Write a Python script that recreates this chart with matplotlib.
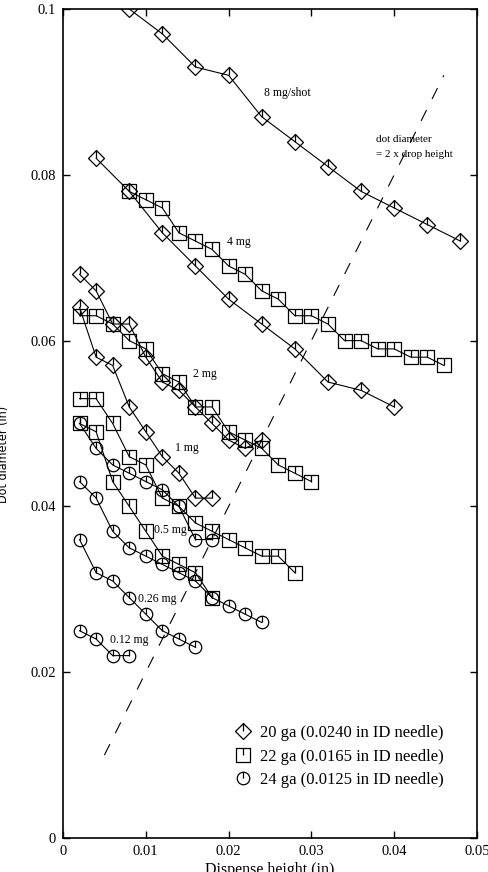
import matplotlib
matplotlib.use("Agg")
import matplotlib.pyplot as plt
from matplotlib.path import Path
from matplotlib.lines import Line2D

plt.rcParams["font.family"] = "Liberation Serif"

# 20 ga needle (diamonds)
d8_x = [0.008, 0.012, 0.016, 0.020, 0.024, 0.028, 0.032, 0.036, 0.040, 0.044, 0.048]
d8_y = [0.100, 0.097, 0.093, 0.092, 0.087, 0.084, 0.081, 0.078, 0.076, 0.074, 0.072]
d4_x = [0.004, 0.008, 0.012, 0.016, 0.020, 0.024, 0.028, 0.032, 0.036, 0.040]
d4_y = [0.082, 0.078, 0.073, 0.069, 0.065, 0.062, 0.059, 0.055, 0.054, 0.052]
d2_x = [0.002, 0.004, 0.006, 0.008, 0.010, 0.012, 0.014, 0.016, 0.018, 0.020, 0.022, 0.024]
d2_y = [0.068, 0.066, 0.062, 0.062, 0.058, 0.055, 0.054, 0.052, 0.050, 0.048, 0.047, 0.048]
d1_x = [0.002, 0.004, 0.006, 0.008, 0.010, 0.012, 0.014, 0.016, 0.018]
d1_y = [0.064, 0.058, 0.057, 0.052, 0.049, 0.046, 0.044, 0.041, 0.041]

# 22 ga needle (squares)
s4_x = [0.008, 0.010, 0.012, 0.014, 0.016, 0.018, 0.020, 0.022, 0.024, 0.026,
        0.028, 0.030, 0.032, 0.034, 0.036, 0.038, 0.040, 0.042, 0.044, 0.046]
s4_y = [0.078, 0.077, 0.076, 0.073, 0.072, 0.071, 0.069, 0.068, 0.066, 0.065,
        0.063, 0.063, 0.062, 0.060, 0.060, 0.059, 0.059, 0.058, 0.058, 0.057]
s2_x = [0.002, 0.004, 0.006, 0.008, 0.010, 0.012, 0.014, 0.016, 0.018, 0.020,
        0.022, 0.024, 0.026, 0.028, 0.030]
s2_y = [0.063, 0.063, 0.062, 0.060, 0.059, 0.056, 0.055, 0.052, 0.052, 0.049,
        0.048, 0.047, 0.045, 0.044, 0.043]
s1_x = [0.002, 0.004, 0.006, 0.008, 0.010, 0.012, 0.014, 0.016, 0.018, 0.020,
        0.022, 0.024, 0.026, 0.028]
s1_y = [0.053, 0.053, 0.050, 0.046, 0.045, 0.041, 0.040, 0.038, 0.037, 0.036,
        0.035, 0.034, 0.034, 0.032]
s05_x = [0.002, 0.004, 0.006, 0.008, 0.010, 0.012, 0.014, 0.016, 0.018]
s05_y = [0.050, 0.049, 0.043, 0.040, 0.037, 0.034, 0.033, 0.032, 0.029]

# 24 ga needle (circles)
c1_x = [0.002, 0.004, 0.006, 0.008, 0.010, 0.012, 0.014, 0.016, 0.018]
c1_y = [0.050, 0.047, 0.045, 0.044, 0.043, 0.042, 0.040, 0.036, 0.036]
c05_x = [0.002, 0.004, 0.006, 0.008, 0.010, 0.012, 0.014, 0.016, 0.018, 0.020, 0.022, 0.024]
c05_y = [0.043, 0.041, 0.037, 0.035, 0.034, 0.033, 0.032, 0.031, 0.029, 0.028, 0.027, 0.026]
c026_x = [0.002, 0.004, 0.006, 0.008, 0.010, 0.012, 0.014, 0.016]
c026_y = [0.036, 0.032, 0.031, 0.029, 0.027, 0.025, 0.024, 0.023]
c012_x = [0.002, 0.004, 0.006, 0.008]
c012_y = [0.025, 0.024, 0.022, 0.022]

# reference line: dot diameter = 2 x drop height
ref_x = [0.005, 0.046]
ref_y = [0.010, 0.092]

legend_labels = ["20 ga (0.0240 in ID needle)",
                 "22 ga (0.0165 in ID needle)",
                 "24 ga (0.0125 in ID needle)"]
xticks = [0, 0.01, 0.02, 0.03, 0.04, 0.05]
xtick_labels = ["0", "0.01", "0.02", "0.03", "0.04", "0.05"]
yticks = [0, 0.02, 0.04, 0.06, 0.08, 0.1]
ytick_labels = ["0", "0.02", "0.04", "0.06", "0.08", "0.1"]

# markers with a small stroke from the top to the centre
stroke = Path([(0, 1), (0, 0)], [Path.MOVETO, Path.LINETO])
diamond = Path.make_compound_path(
    Path([(0, 1), (1, 0), (0, -1), (-1, 0), (0, 1)], closed=True), stroke)
square = Path.make_compound_path(
    Path([(-1, -1), (1, -1), (1, 1), (-1, 1), (-1, -1)], closed=True), stroke)
circle = Path.make_compound_path(Path.unit_circle(), stroke)

mk = {"d": (diamond, 11.5), "s": (square, 9.5), "c": (circle, 9.0)}

fig = plt.figure(figsize=(4.88, 8.72), dpi=100)
ax = fig.add_axes([63 / 488, 34 / 872, 414 / 488, 829 / 872])


def series(x, y, kind):
    m, ms = mk[kind]
    ax.plot(x, y, color="black", lw=0.8, marker=m, ms=ms, mfc="none",
            mec="black", mew=0.9)


series(d8_x, d8_y, "d")
series(d4_x, d4_y, "d")
series(d2_x, d2_y, "d")
series(d1_x, d1_y, "d")
series(s4_x, s4_y, "s")
series(s2_x, s2_y, "s")
series(s1_x, s1_y, "s")
series(s05_x, s05_y, "s")
series(c1_x, c1_y, "c")
series(c05_x, c05_y, "c")
series(c026_x, c026_y, "c")
series(c012_x, c012_y, "c")

ax.plot(ref_x, ref_y, color="black", lw=0.8, dashes=(11, 11))

ax.text(0.0243, 0.0899, "8 mg/shot", fontsize=8.5, va="center")
ax.text(0.0198, 0.0719, "4 mg", fontsize=8.5, va="center")
ax.text(0.0157, 0.0560, "2 mg", fontsize=8.5, va="center")
ax.text(0.0135, 0.0470, "1 mg", fontsize=8.5, va="center")
ax.text(0.0110, 0.0372, "0.5 mg", fontsize=8.5, va="center")
ax.text(0.0090, 0.0288, "0.26 mg", fontsize=8.5, va="center")
ax.text(0.0057, 0.0239, "0.12 mg", fontsize=8.5, va="center")
ax.text(0.0378, 0.0843, "dot diameter", fontsize=8, va="center")
ax.text(0.0378, 0.0824, "= 2 x drop height", fontsize=8, va="center")

handles = [Line2D([], [], ls="none", color="black", marker=mk[k][0], ms=mk[k][1],
                  mfc="none", mew=0.9) for k in ["d", "s", "c"]]
ax.legend(handles, legend_labels, loc="center left", bbox_to_anchor=(0.415, 0.098),
          frameon=False, fontsize=12, handlelength=1.0, handletextpad=0.5,
          labelspacing=0.45, borderpad=0, borderaxespad=0)

ax.set_xlim(0, 0.05)
ax.set_ylim(0, 0.1)
ax.set_xticks(xticks)
ax.set_xticklabels(xtick_labels)
ax.set_yticks(yticks)
ax.set_yticklabels(ytick_labels)
ax.tick_params(direction="in", top=True, right=True, length=5, width=1,
               labelsize=10.5, pad=5)
for sp in ax.spines.values():
    sp.set_linewidth(1.2)

ax.set_xlabel("Dispense height (in)", fontsize=11.5)
ax.xaxis.set_label_coords(0.5, -0.029)
ax.set_ylabel("Dot diameter (in)", fontsize=9, family="DejaVu Sans",
              fontstretch="condensed")
ax.yaxis.set_label_coords(-0.128, 0.463)

fig.savefig("out.png", dpi=100)
